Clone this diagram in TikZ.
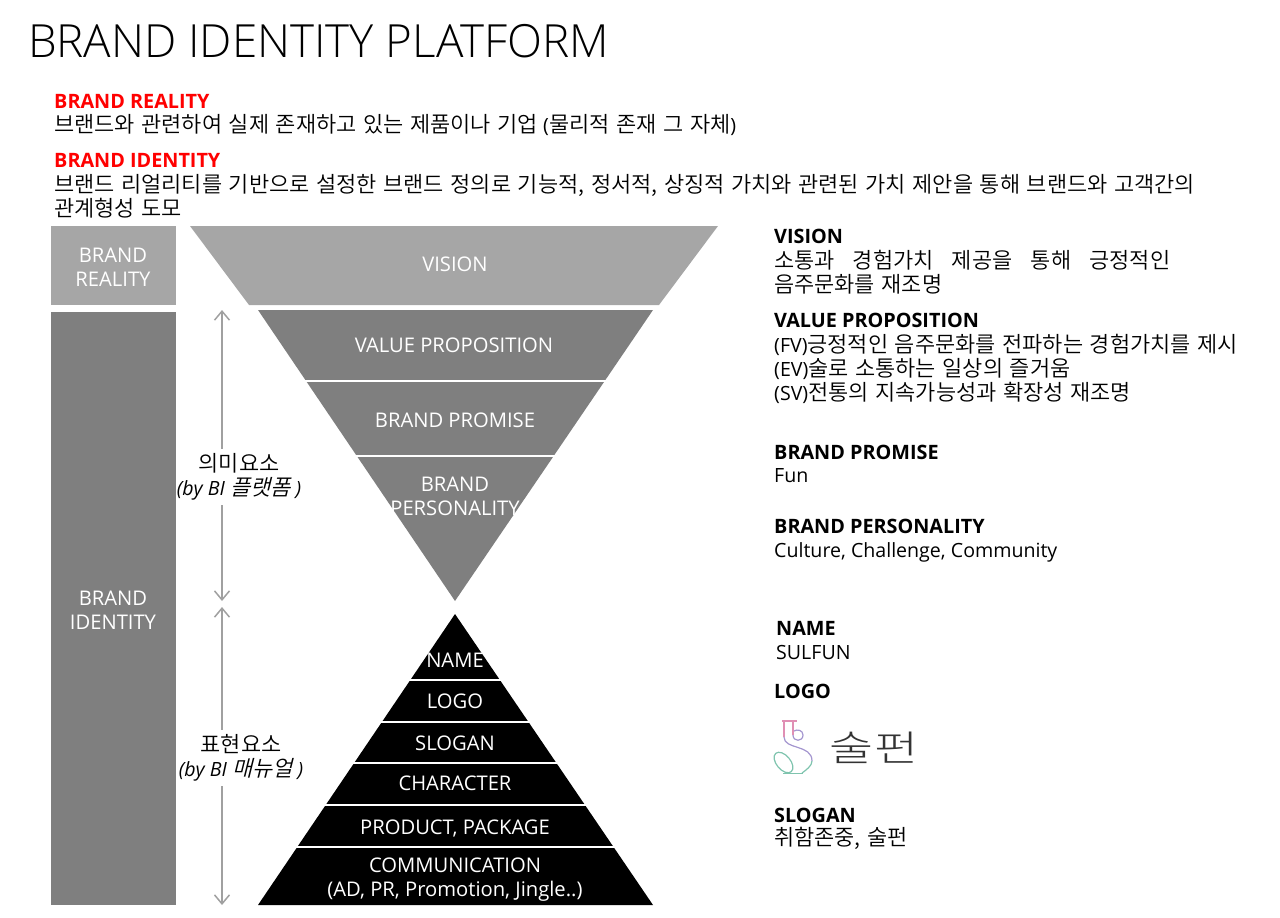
\documentclass[tikz,border=0pt]{standalone}
\usepackage{fontspec}
\setmainfont{Open Sans}
\newfontfamily\kr[Scale=1.12,WordSpace=1.35]{Noto Sans CJK KR DemiLight}
\newfontfamily\krslant[Scale=1.12,FakeSlant=0.25,WordSpace=1.5]{Noto Sans CJK KR DemiLight}
\newfontfamily\krlogo[FakeStretch=1.33]{Noto Sans CJK KR Light}
\newfontfamily\titlefont{Open Sans Light}
\usetikzlibrary{arrows.meta}
\definecolor{lightband}{HTML}{A6A6A6}
\definecolor{darkband}{HTML}{7F7F7F}
\definecolor{arrowgray}{HTML}{A0A0A0}
\definecolor{logopink}{HTML}{E08FB4}
\definecolor{logoviolet}{HTML}{A496CF}
\definecolor{logogreen}{HTML}{7FC4AE}
\tikzset{
  bandlabel/.style={text=white, align=center, inner sep=0pt, font=\fontsize{20.2}{24}\selectfont},
  headlabel/.style={anchor=west, inner sep=0pt, font=\bfseries\fontsize{19.8}{24}\selectfont},
  redlabel/.style={headlabel, text=red},
  bodylabel/.style={anchor=west, align=left, inner sep=0pt, font=\fontsize{19.6}{24}\selectfont},
  sidelabel/.style={fill=white, align=center, inner xsep=1pt, inner ysep=5pt, font=\fontsize{19.6}{24}\selectfont},
  dimarrow/.style={arrowgray, line width=1.5pt, {Straight Barb[length=9pt,width=15pt]}-{Straight Barb[length=9pt,width=15pt]}},
  logoline/.style={line width=1.2pt}
}
\begin{document}
\begin{tikzpicture}[x=1pt,y=-1pt]
  \useasboundingbox (0,0) rectangle (1280,918);

  \node[anchor=west, inner sep=0pt, font=\titlefont\fontsize{45.7}{50}\selectfont] (title) at (28,41) {BRAND IDENTITY PLATFORM};

  \node[redlabel] (realityhead) at (54,101) {BRAND REALITY};
  \node[bodylabel] (realitytext) at (54,125) {{\kr 브랜드와 관련하여 실제 존재하고 있는 제품이나 기업} ({\kr 물리적 존재 그 자체})};
  \node[redlabel] (identityhead) at (54,160) {BRAND IDENTITY};
  \node[bodylabel] (identitytext) at (54,196) {{\kr 브랜드 리얼리티를 기반으로 설정한 브랜드 정의로 기능적, 정서적, 상징적 가치와 관련된 가치 제안을 통해 브랜드와 고객간의}\\{\kr 관계형성 도모}};

  % left columns
  \fill[lightband] (51,226) rectangle (176,305);
  \fill[darkband] (51,312) rectangle (176,905);
  \node[bandlabel] (realitybox) at (113,267) {BRAND\\REALITY};
  \node[bandlabel] (identitybox) at (113,610) {BRAND\\IDENTITY};

  % inverted triangle
  \fill[lightband] (190,226) -- (718,226) -- (659,305) -- (249,305) -- cycle;
  \fill[darkband] (258,310) -- (653,310) -- (455,601) -- cycle;
  \foreach \y in {381,456}
    \draw[white, line width=1.5pt] (258,\y) -- (653,\y);
  \node[bandlabel] (vision) at (455,264) {VISION};
  \node[bandlabel] (value) at (454,345) {VALUE PROPOSITION};
  \node[bandlabel] (promise) at (455,420) {BRAND PROMISE};
  \node[bandlabel] (personality) at (455,496) {BRAND\\PERSONALITY};

  % upright triangle
  \fill[black] (455,614) -- (653,905) -- (258,905) -- cycle;
  \foreach \y in {680,722,763,805,847}
    \draw[white, line width=1.5pt] (258,\y) -- (653,\y);
  \node[bandlabel] (name) at (455,660) {NAME};
  \node[bandlabel] (logo) at (455,701) {LOGO};
  \node[bandlabel] (slogan) at (455,743) {SLOGAN};
  \node[bandlabel] (character) at (455,783) {CHARACTER};
  \node[bandlabel] (product) at (455,828) {PRODUCT, PACKAGE};
  \node[bandlabel] (communication) at (455,880) {COMMUNICATION\\(AD, PR, Promotion, Jingle..)};

  % arrows
  \coordinate (meaningtop) at (222,310);
  \coordinate (meaningbot) at (222,601);
  \coordinate (expresstop) at (222,607);
  \coordinate (expressbot) at (222,905);
  \draw[dimarrow] (meaningtop) -- (meaningbot);
  \draw[dimarrow] (expresstop) -- (expressbot);
  \node[sidelabel] (meaning) at (239,477) {{\kr 의미요소}\\\itshape (by BI {\krslant 플랫폼}\kern5pt)};
  \node[sidelabel] (express) at (241,758) {{\kr 표현요소}\\\itshape (by BI {\krslant 매뉴얼}\kern5pt)};

  % right column
  \node[headlabel] (visionhead) at (774,236) {VISION};
  \node[bodylabel] (visiontext) at (774,272.5) {\makebox[396pt][s]{\kr 소통과 경험가치 제공을 통해 긍정적인}\\{\kr 음주문화를 재조명}};
  \node[headlabel] (valuehead) at (774,320.5) {VALUE PROPOSITION};
  \node[bodylabel] (valuetext) at (774,369) {(FV){\kr 긍정적인 음주문화를 전파하는 경험가치를 제시}\\(EV){\kr 술로 소통하는 일상의 즐거움}\\(SV){\kr 전통의 지속가능성과 확장성 재조명}};
  \node[headlabel] (promisehead) at (774,452.5) {BRAND PROMISE};
  \node[bodylabel] (promisetext) at (774,476) {Fun};
  \node[headlabel] (personalityhead) at (774,526.5) {BRAND PERSONALITY};
  \node[bodylabel] (personalitytext) at (774,552) {Culture, Challenge, Community};
  \node[headlabel] (namehead) at (776,628.5) {NAME};
  \node[bodylabel] (nametext) at (776,652.5) {SULFUN};
  \node[headlabel] (logohead) at (774,691) {LOGO};
  \node[headlabel] (sloganhead) at (774,815) {SLOGAN};
  \node[bodylabel] (slogantext) at (774,838.5) {{\kr 취함존중, 술펀}};

  % logo
  \draw[logopink, logoline] (782,721) -- (797,721);
  \draw[logopink, logoline] (784,721) -- (784,737);
  \draw[logopink, logoline] (793,721) -- (793,735);
  \draw[logoviolet, logoline] (793,735) .. controls (793,742) and (803,742) .. (803,735) .. controls (803,730) and (797,729) .. (794,731);
  \draw[logoviolet, logoline] (784,737) .. controls (784,750) and (812,744) .. (812,761);
  \draw[logogreen, logoline] (812,761) .. controls (812,766) and (806,770) .. (802,773);
  \draw[logogreen, logoline] (783.5,762.5) ellipse[x radius=12, y radius=7, rotate=-50];
  \draw[logogreen, line width=1.6pt] (783,773.5) -- (803,773.5);
  \node[inner sep=0pt, font=\krlogo\fontsize{36}{40}\selectfont, text=black!80] (logotext) at (874,748) {술펀};
\end{tikzpicture}
\end{document}
